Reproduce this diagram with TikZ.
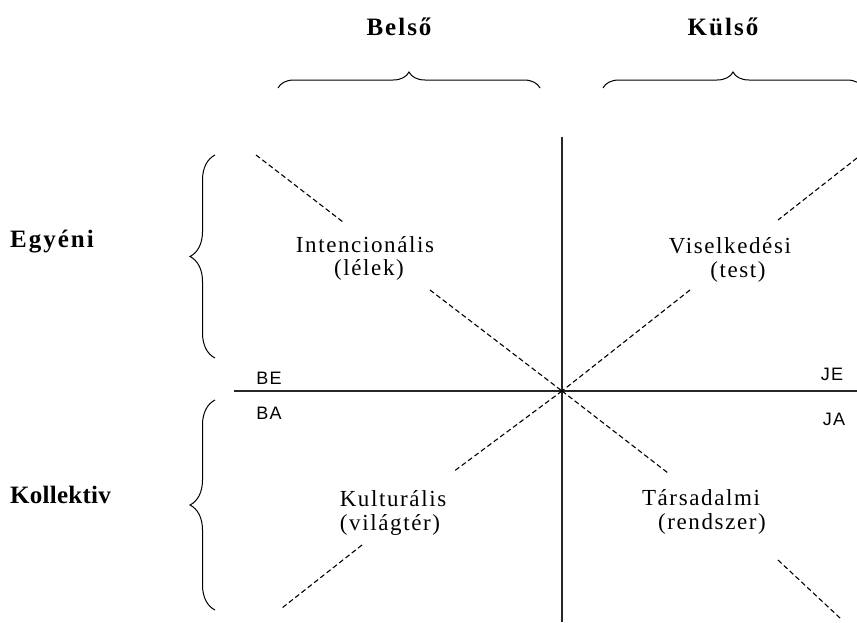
\documentclass[tikz,border=0pt]{standalone}
\usepackage{fontspec}
\setmainfont{Liberation Serif}
\newfontfamily\lblfont[LetterSpace=7]{Liberation Serif}
\newfontfamily\hdrfont[LetterSpace=8]{Liberation Serif}
\newfontfamily\hdrtight[LetterSpace=1]{Liberation Serif}
\newfontfamily\cornerfont[LetterSpace=6]{Liberation Sans}
\usetikzlibrary{decorations.pathreplacing}
\begin{document}
\begin{tikzpicture}[x=1pt,y=-1pt,
  axisline/.style={draw=black!85, line width=1.3pt},
  dline/.style={draw=black, line width=1.1pt, dash pattern=on 5pt off 3pt},
  bracepath/.style={draw=black, line width=1pt, decorate, decoration={brace, amplitude=#1}},
  hdr/.style={font=\hdrfont\bfseries\fontsize{25}{29}\selectfont, inner sep=0pt},
  hdrt/.style={font=\hdrtight\bfseries\fontsize{25}{29}\selectfont, inner sep=0pt},
  lbl/.style={font=\lblfont\fontsize{23}{27}\selectfont, inner sep=0pt},
  corner/.style={font=\cornerfont\fontsize{18}{20}\selectfont, inner sep=0pt}]
\useasboundingbox (0,0) rectangle (857,622);
\clip (0,0) rectangle (857,622);
\fill[white] (0,0) rectangle (857,622);

% axes
\coordinate (O) at (562,391);
\coordinate (vtop) at (562,137);
\coordinate (vbot) at (562,622);
\coordinate (hl) at (234,391);
\coordinate (hr) at (857,391);
\draw[axisline] (vtop) -- (vbot);
\draw[axisline] (hl) -- (hr);

% diagonal dashed lines
\coordinate (ul1) at (256,155);
\coordinate (ul2) at (343,222);
\coordinate (ul3) at (430,290);
\coordinate (ur1) at (857,158);
\coordinate (ur2) at (778,220);
\coordinate (ur3) at (690,290);
\coordinate (ll1) at (453,472);
\coordinate (ll2) at (362,545);
\coordinate (ll3) at (282,608);
\coordinate (lr1) at (668,473);
\coordinate (lr2) at (778,560);
\coordinate (lr3) at (840,618);
\draw[dline] (ul1) -- (ul2);
\draw[dline] (ul3) -- (O);
\draw[dline] (ur1) -- (ur2);
\draw[dline] (ur3) -- (O);
\draw[dline] (O) -- (ll1);
\draw[dline] (ll2) -- (ll3);
\draw[dline] (O) -- (lr1);
\draw[dline] (lr2) -- (lr3);

% braces
\draw[bracepath=16pt] (278,88) -- (540,88);
\draw[bracepath=16pt] (603,88) -- (863,88);
\draw[bracepath=25pt] (215,358) -- (215,155);
\draw[bracepath=25pt] (215,610) -- (215,400);

% headers
\node[hdr] (belso) at (399,27) {Belső};
\node[hdr] (kulso) at (723,27) {Külső};
\node[hdr, anchor=west] (egyeni) at (10,242) {Egyéni};
\node[hdrt, anchor=west] (kollektiv) at (10,495) {Kollektiv};

% quadrant labels
\node[lbl] (int1) at (365,245) {Intencionális};
\node[lbl] (int2) at (369,270) {(lélek)};
\node[lbl] (vis1) at (730,246) {Viselkedési};
\node[lbl] (vis2) at (738,272) {(test)};
\node[lbl] (kul1) at (393,499) {Kulturális};
\node[lbl] (kul2) at (390,525) {(világtér)};
\node[lbl] (tar1) at (701,498) {Társadalmi};
\node[lbl] (tar2) at (712,524) {(rendszer)};

% corner labels
\node[corner] (be) at (269,378) {BE};
\node[corner] (ba) at (269,413) {BA};
\node[corner] (je) at (832,374) {JE};
\node[corner] (ja) at (834,419) {JA};
\end{tikzpicture}
\end{document}
